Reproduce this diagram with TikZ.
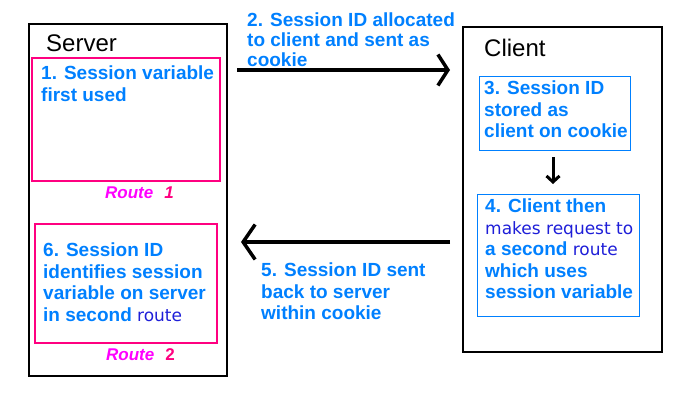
\documentclass[tikz,border=0pt]{standalone}
\usepackage{fontspec}
\setmainfont{Liberation Sans}
\newfontfamily\routefont{DejaVu Sans}
\usetikzlibrary{arrows.meta}
\definecolor{StepBlue}{HTML}{0080FF}
\definecolor{RoutePink}{HTML}{FF0080}
\definecolor{RouteMagenta}{HTML}{FF00FF}
\definecolor{RouteBlue}{HTML}{1E1ED8}
\newcommand{\stepfont}{\bfseries\fontsize{19}{21.5}\selectfont}
\newcommand{\routeword}[1]{{\routefont\mdseries\fontsize{17}{21.5}\selectfont\color{RouteBlue}#1}}
\newcommand{\routelabel}[1]{%
  {\itshape\color{RouteMagenta}Route}\hspace{11pt}{\color{RoutePink}#1}}

\begin{document}
\begin{tikzpicture}[x=1pt,y=-1pt,
  hostbox/.style={draw=black,line width=1.2pt},
  routebox/.style={draw=RoutePink,line width=2.2pt},
  cookiebox/.style={draw=StepBlue,line width=1pt},
  hostlabel/.style={anchor=base west,inner sep=0pt,font=\fontsize{24}{28}\selectfont},
  routetag/.style={anchor=base west,inner sep=0pt,font=\bfseries\fontsize{17}{19}\selectfont},
  steptext/.style={anchor=north west,inner sep=0pt,align=left,text=StepBlue,font=\stepfont},
  flow/.style={line width=3.5pt}]
  \useasboundingbox (0,0) rectangle (675,404);

  % server side
  \draw[hostbox] (29,24) rectangle (227,376);
  \node[hostlabel] (server) at (46,52) {Server};
  \draw[routebox] (32,58) rectangle (220,181);
  \node[steptext] (step1) at (41,66) {1. Session variable\\first used};
  \node[routetag] (route1) at (105,198) {\routelabel{\itshape 1}};
  \draw[routebox] (35,224) rectangle (217,343);
  \node[steptext] (step6) at (43,243)
    {6. Session ID\\identifies session\\variable on server\\in second \routeword{route}};
  \node[routetag] (route2) at (106,360) {\routelabel{2}};

  % client side
  \draw[hostbox] (463,27) rectangle (662,352);
  \node[hostlabel] (client) at (484,57) {Client};
  \draw[cookiebox] (479,77) rectangle (630,150);
  \node[steptext] (step3) at (484,81) {3. Session ID\\stored as\\client on cookie};
  \draw[cookiebox] (477,194) rectangle (639,316);
  \node[steptext] (step4) at (485,199)
    {4. Client then\\\routeword{makes request to}\\a second \routeword{route}\\which uses\\session variable};

  % messages between them
  \coordinate (sendfrom) at (237,70);
  \coordinate (sendto) at (450,70);
  \draw[flow,-{Straight Barb[length=10pt,width=31pt]}] (sendfrom) -- (sendto);
  \node[steptext,font=\bfseries\fontsize{19}{20}\selectfont] (step2) at (247,13)
    {2. Session ID allocated\\to client and sent as\\cookie};
  \coordinate (readfrom) at (553,157);
  \coordinate (readto) at (553,184);
  \draw[line width=3pt,-{Straight Barb[length=6pt,width=13pt]}] (readfrom) -- (readto);
  \coordinate (backfrom) at (450,242);
  \coordinate (backto) at (241,242);
  \draw[flow,-{Straight Barb[length=12pt,width=35pt]}] (backfrom) -- (backto);
  \node[steptext] (step5) at (261,263) {5. Session ID sent\\back to server\\within cookie};
\end{tikzpicture}
\end{document}
